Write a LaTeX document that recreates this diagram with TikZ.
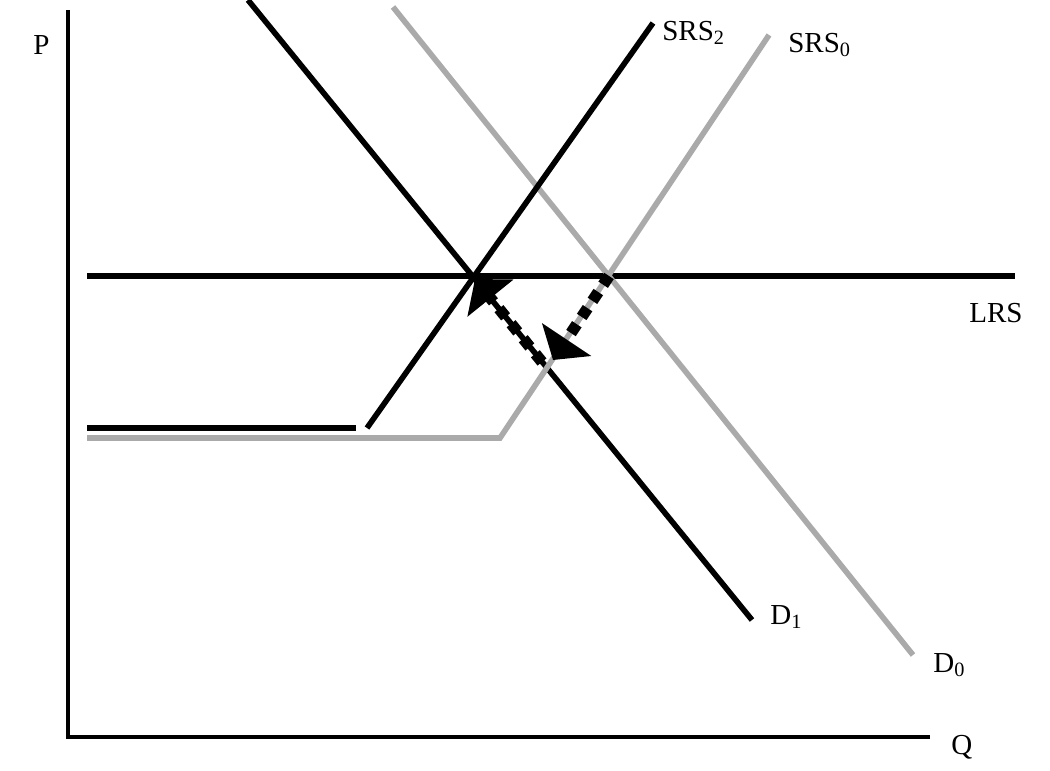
\documentclass[tikz,border=0pt]{standalone}
\usepackage{fontspec}
\setmainfont{Liberation Serif}
\usetikzlibrary{arrows.meta}
\definecolor{curvegray}{RGB}{170,170,170}
\tikzset{
  axisline/.style={line width=2pt},
  blackcurve/.style={line width=3.2pt, black},
  graycurve/.style={line width=3.2pt, curvegray},
  shiftarrow/.style={line width=6.5pt, dash pattern=on 6pt off 5pt,
    -{Triangle[width=33pt,length=14pt]}},
  curvelabel/.style={anchor=west, inner sep=0pt, font=\fontsize{16.5}{18}\selectfont}
}
\begin{document}
\begin{tikzpicture}[x=0.02cm, y=-0.02cm]
    \useasboundingbox (0,0) rectangle (1050,770);
    % axes
    \coordinate (Ptop) at (68,10);
    \coordinate (O) at (68,737);
    \coordinate (Qend) at (930,737);
    \draw[axisline] (Ptop) -- (O) -- (Qend);
    \node[curvelabel] (P) at (33,45) {P};
    \node[curvelabel] (Q) at (951,747) {Q};
    % long run supply
    \coordinate (LRSa) at (87,276);
    \coordinate (LRSb) at (1015,276);
    \draw[blackcurve] (LRSa) -- (LRSb);
    \node[curvelabel] (LRS) at (969,313) {LRS};
    % demand curves
    \coordinate (D0a) at (393,7);
    \coordinate (D0b) at (913,655);
    \draw[graycurve] (D0a) -- (D0b);
    \node[curvelabel] (D0) at (933,665) {D\textsubscript{0}};
    \coordinate (D1a) at (248,0);
    \coordinate (D1b) at (752,620);
    \draw[blackcurve] (D1a) -- (D1b);
    \node[curvelabel] (D1) at (770,617) {D\textsubscript{1}};
    % short run supply curves
    \coordinate (S0a) at (87,438);
    \coordinate (S0k) at (500,438);
    \coordinate (S0b) at (769,35);
    \draw[graycurve] (S0a) -- (S0k) -- (S0b);
    \node[curvelabel] (SRS0) at (788,45) {SRS\textsubscript{0}};
    \coordinate (S2a) at (87,428);
    \coordinate (S2k) at (356,428);
    \coordinate (S2c) at (367,428);
    \coordinate (S2b) at (653,23);
    \draw[blackcurve] (S2a) -- (S2k);
    \draw[blackcurve] (S2c) -- (S2b);
    \node[curvelabel] (SRS2) at (662,33) {SRS\textsubscript{2}};
    % adjustment arrows
    \coordinate (E0) at (609,276);
    \coordinate (Edip) at (553,360);
    \coordinate (Estart) at (542,362);
    \coordinate (E2) at (475,279);
    \draw[shiftarrow] (E0) -- (Edip);
    \draw[shiftarrow] (Estart) -- (E2);
\end{tikzpicture}
\end{document}
